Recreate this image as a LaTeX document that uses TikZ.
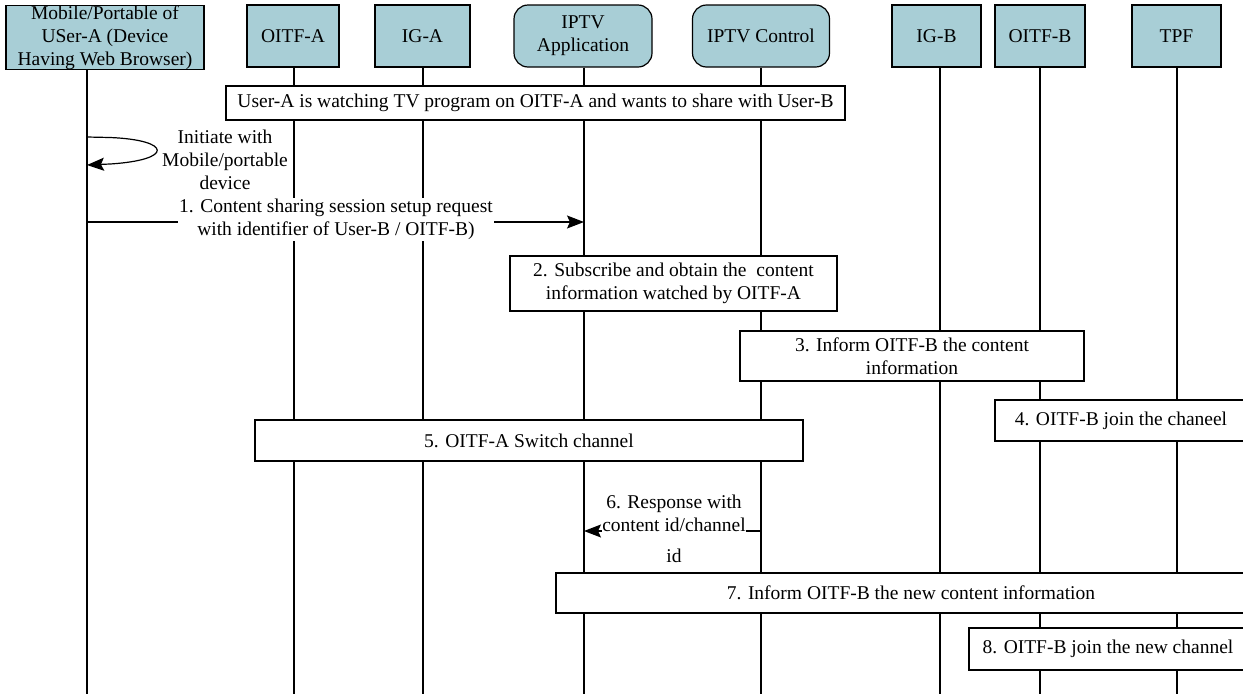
\documentclass[tikz,border=0pt]{standalone}
\usepackage{fontspec}
\setmainfont{Liberation Serif}
\usetikzlibrary{arrows.meta}

\definecolor{hdrblue}{RGB}{168,206,214}
\tikzset{
	hdr/.style={draw,fill=hdrblue,align=center,inner sep=0pt,minimum height=62pt,line width=1.2pt},
	hdrround/.style={hdr,rounded corners=14pt},
	stepbox/.style={draw,fill=white,align=center,inner sep=0pt,line width=1.4pt},
	msg/.style={line width=1.2pt,-{Stealth[length=17pt,width=13pt,inset=3pt]}},
	msglabel/.style={fill=white,align=center,inner sep=1pt},
}

\begin{document}
\begin{tikzpicture}[x=1pt,y=-1pt,line width=1.2pt,font=\fontsize{19.5}{23}\selectfont]
		\useasboundingbox (0,0) rectangle (1243,694);
		\clip (0,0) rectangle (1243,694);
		\node[hdr,minimum width=198pt,minimum height=63pt] (mob) at (105,37.5) {Mobile/Portable of\\USer-A (Device\\Having Web Browser)};
		\node[hdr,minimum width=92pt] (oitfa) at (293,36) {OITF-A};
		\node[hdr,minimum width=95pt] (iga) at (422.5,36) {IG-A};
		\node[hdrround,minimum width=138pt] (app) at (583,36) {IPTV\\Application};
		\node[hdrround,minimum width=137pt] (ctrl) at (761,36) {IPTV Control};
		\node[hdr,minimum width=89pt] (igb) at (936.5,36) {IG-B};
		\node[hdr,minimum width=90pt] (oitfb) at (1040,36) {OITF-B};
		\node[hdr,minimum width=89pt] (tpf) at (1176.5,36) {TPF};
		\foreach \n/\x in {mob/87,oitfa/294,iga/423,app/584,ctrl/761,igb/940,oitfb/1040,tpf/1177}
			\draw (\n.south -| \x,0) -- (\x,694) coordinate (\n end);

		\node[stepbox,minimum width=619pt,minimum height=34pt] (watch) at (535.5,103) {User-A is watching TV program on OITF-A and wants to share with User-B};

		\coordinate (loopa) at (87,137);
		\coordinate (loopb) at (87,165);
		\draw[msg] (loopa) -- (110,137.5) .. controls (172,140) and (174,160) .. (110,164) -- (loopb);
		\node[align=center] (initlbl) at (225,160) {Initiate with\\Mobile/portable\\device};

		\coordinate (m1a) at (87,222);
		\coordinate (m1b) at (584,222);
		\draw[msg] (m1a) -- (m1b);
		\node[msglabel] (m1lbl) at (336,219.5) {1. Content sharing session setup request\\with identifier of User-B / OITF-B)};

		\node[stepbox,minimum width=327pt,minimum height=55pt] (subs) at (673.5,283.5) {2. Subscribe and obtain the\ \ content\\information watched by OITF-A};
		\node[stepbox,minimum width=344pt,minimum height=50pt] (inform) at (912,356) {3. Inform OITF-B the content\\information};
		\node[stepbox,minimum width=252pt,minimum height=41pt] (join) at (1121,420.5) {4. OITF-B join the chaneel};
		\node[stepbox,minimum width=548pt,minimum height=41pt] (switch) at (529,440.5) {5. OITF-A Switch channel};

		\coordinate (m6a) at (761,531);
		\coordinate (m6b) at (584,531);
		\draw[msg] (m6a) -- (m6b);
		\node[msglabel,inner xsep=0pt] (m6lbl) at (674,528.5) {6. Response with\\content id/channel\\[8pt]id};

		\node[stepbox,minimum width=710pt,minimum height=40pt] (newinfo) at (911,593) {7. Inform OITF-B the new content information};
		\node[stepbox,minimum width=278pt,minimum height=42pt] (newjoin) at (1108,649) {8. OITF-B join the new channel};
	\end{tikzpicture}
\end{document}
